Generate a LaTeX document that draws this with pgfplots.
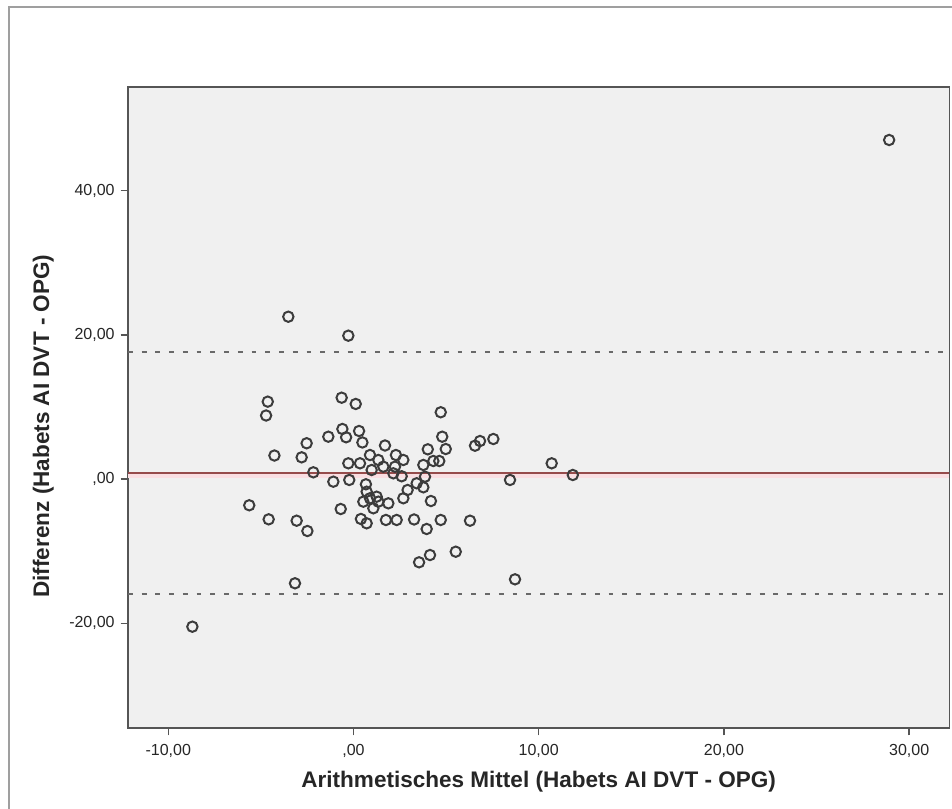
\documentclass[border=0pt]{standalone}
\usepackage{fontspec}
\setmainfont{Liberation Sans}
\usepackage{pgfplots}
\pgfplotsset{compat=1.18}
\definecolor{bgplot}{RGB}{240,240,240}
\definecolor{axcol}{RGB}{85,85,85}
\definecolor{meanred}{RGB}{150,75,75}
\definecolor{meanpink}{RGB}{250,222,226}
\definecolor{dashcol}{RGB}{105,105,105}
\definecolor{markcol}{RGB}{60,60,60}
\pgfplotstableread{
x y
28.92 47.03
-3.52 22.52
-0.28 19.89
-4.63 10.74
-4.72 8.82
-0.64 11.29
0.12 10.42
-0.60 6.95
0.30 6.67
-1.36 5.88
-0.40 5.80
0.48 5.08
-2.53 4.97
1.70 4.66
-4.27 3.27
-2.80 3.02
-2.17 0.94
-0.28 2.19
0.35 2.19
0.89 3.34
1.34 2.65
2.29 3.34
2.69 2.65
1.61 1.72
2.24 1.72
2.15 0.80
2.60 0.39
0.98 1.26
-1.09 -0.36
-0.23 -0.12
0.67 -0.72
0.71 -1.75
0.89 -2.66
0.53 -3.13
1.25 -2.44
1.34 -3.13
1.07 -4.05
1.88 -3.36
2.69 -2.66
2.92 -1.51
-5.63 -3.63
-0.69 -4.15
-4.58 -5.58
-3.07 -5.77
-2.49 -7.20
0.40 -5.53
0.71 -6.13
1.75 -5.67
2.33 -5.67
3.27 -5.60
4.71 9.27
4.79 5.88
4.98 4.17
4.01 4.13
6.56 4.63
6.83 5.28
7.55 5.56
3.77 1.96
4.31 2.51
4.63 2.51
3.86 0.33
10.70 2.19
11.84 0.57
8.45 -0.12
3.41 -0.58
3.77 -1.14
4.18 -3.04
3.95 -6.92
4.71 -5.67
6.29 -5.77
4.13 -10.53
3.54 -11.54
5.52 -10.07
8.72 -13.90
-3.16 -14.45
-8.70 -20.47
}\pts
\begin{document}
\begin{tikzpicture}[x=0.75pt,y=0.75pt]
\useasboundingbox (0,0) rectangle (952,809);
\fill[white] (0,0) rectangle (952,809);
\draw[gray!75, line width=1.1pt] (9,0) -- (9,802) -- (952,802);
\begin{axis}[
  at={(96pt,60.75pt)}, anchor=south west,
  scale only axis, width=616pt, height=480.75pt,
  xmin=-12.176, xmax=32.17, ymin=-34.52, ymax=54.38,
  axis background/.style={fill=bgplot},
  axis line style={draw=axcol, line width=1.1pt},
  xtick={-10,0,10,20,30},
  xticklabels={{\mbox{-10,00}},{\mbox{,00}},{\mbox{10,00}},{\mbox{20,00}},{\mbox{30,00}}},
  ytick={-20,0,20,40},
  yticklabels={{\mbox{-20,00}},{\mbox{,00}},{\mbox{20,00}},{\mbox{40,00}}},
  xtick pos=bottom, ytick pos=left,
  tick align=outside, major tick length=5.5pt,
  tick style={draw=axcol, line width=1.1pt},
  ticklabel style={font=\fontsize{12}{14}\selectfont, text=black!85},
  xticklabel style={yshift=-3pt},
  yticklabel style={xshift=-1pt},
  xlabel={Arithmetisches Mittel (Habets AI DVT - OPG)},
  ylabel={Differenz (Habets AI DVT - OPG)},
  xlabel style={at={(axis description cs:0.5,-0.083)}, anchor=center, font=\fontsize{16.9}{19}\selectfont\bfseries, text=black!85},
  ylabel style={at={(axis description cs:-0.103,0.471)}, anchor=center, font=\fontsize{16.9}{19}\selectfont\bfseries, text=black!85},
  clip=true,
]
\addplot[draw=meanpink, line width=3.4pt, forget plot] coordinates {(-12.176,0.45) (32.17,0.45)};
\addplot[draw=meanred, line width=1.1pt, forget plot] coordinates {(-12.176,0.87) (32.17,0.87)};
\addplot[draw=dashcol, line width=1.6pt, dash pattern=on 3.6pt off 6.7pt, forget plot] coordinates {(-12.176,17.62) (32.17,17.62)};
\addplot[draw=dashcol, line width=1.6pt, dash pattern=on 3.6pt off 6.7pt, forget plot] coordinates {(-12.176,-15.94) (32.17,-15.94)};
\addplot[only marks, mark=o, mark size=3.9pt, mark options={draw=markcol, line width=1.5pt}] table[x=x,y=y] {\pts};
\end{axis}
\end{tikzpicture}
\end{document}
